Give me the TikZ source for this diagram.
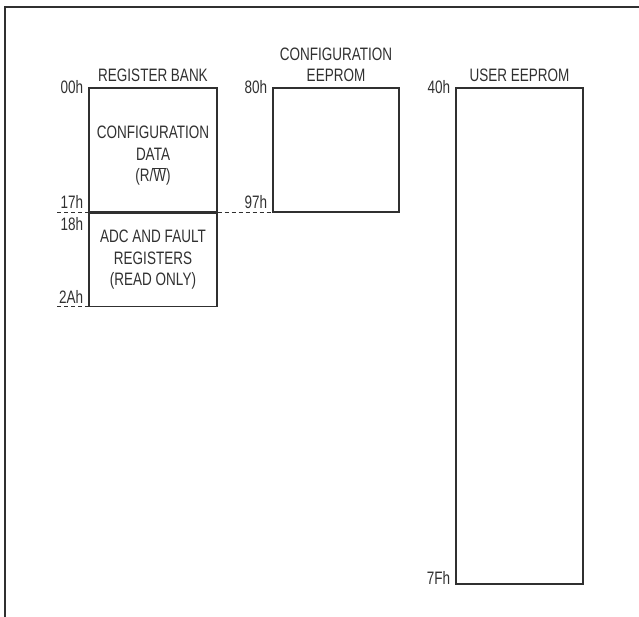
\documentclass[tikz,border=0pt]{standalone}
\usepackage{fontspec}
\setmainfont{Liberation Sans}[FakeStretch=0.75]
\usepackage{xcolor}
\usetikzlibrary{positioning}
\definecolor{ink}{HTML}{303030}

\begin{document}
\begin{tikzpicture}[x=1pt, y=-1pt, line join=miter,
  every node/.style={text=ink, font=\fontsize{18}{21.5}\selectfont},
  memblock/.style={draw=ink, line width=1.3pt, inner sep=0pt, align=center},
  addr/.style={inner sep=0pt},
  title/.style={inner sep=0pt, align=center},
  tick/.style={draw=ink, line width=1pt, dash pattern=on 4pt off 3pt}]

\useasboundingbox (0,0) rectangle (639,617);

% frame
\draw[ink, line width=1.8pt] (5,617) -- (5,7) -- (639,7);

% register bank
\node[memblock, minimum width=128, minimum height=124] (cfgdata) at (153,150) {};
\node[memblock, minimum width=128, minimum height=93, below=0pt of cfgdata] (adcregs)
  {ADC AND FAULT\\REGISTERS\\(READ ONLY)};
\node[title, above=5pt of cfgdata] (bankttl) {REGISTER BANK};
\node[title, yshift=-6pt] (cfgtxt) at (cfgdata.center)
  {CONFIGURATION\\DATA\\(R/$\overline{\mbox{W}}$)};

% configuration eeprom
\node[memblock, minimum width=126, minimum height=124] (cfgrom) at (336,150) {};
\node[title, above=5pt of cfgrom] (cfgttl) {CONFIGURATION\\EEPROM};

% user eeprom
\node[memblock, minimum width=127, minimum height=496] (userrom) at (519.5,336) {};
\node[title, above=5pt of userrom] (userttl) {USER EEPROM};

% addresses
\node[addr, anchor=east]       (a00) at ([xshift=-5pt]cfgdata.north west) {00h};
\node[addr, anchor=south east] (a17) at ([xshift=-5pt, yshift=4pt]cfgdata.south west) {17h};
\node[addr, anchor=north east] (a18) at ([xshift=-5pt, yshift=-5pt]adcregs.north west) {18h};
\node[addr, anchor=south east] (a2A) at ([xshift=-5pt, yshift=3pt]adcregs.south west) {2Ah};
\node[addr, anchor=east]       (a80) at ([xshift=-5pt]cfgrom.north west) {80h};
\node[addr, anchor=south east] (a97) at ([xshift=-5pt, yshift=4pt]cfgrom.south west) {97h};
\node[addr, anchor=east]       (a40) at ([xshift=-5pt]userrom.north west) {40h};
\node[addr, anchor=south east] (a7F) at ([xshift=-5pt]userrom.south west) {7Fh};

% dashed boundaries
\coordinate (t17) at ([xshift=-31pt]cfgdata.south west);
\coordinate (t2A) at ([xshift=-31pt]adcregs.south west);
\draw[tick] (t17) -- (cfgdata.south west);
\draw[tick] (t2A) -- (adcregs.south west);
\draw[tick] (cfgdata.south east) -- (cfgrom.south west);

\end{tikzpicture}
\end{document}
